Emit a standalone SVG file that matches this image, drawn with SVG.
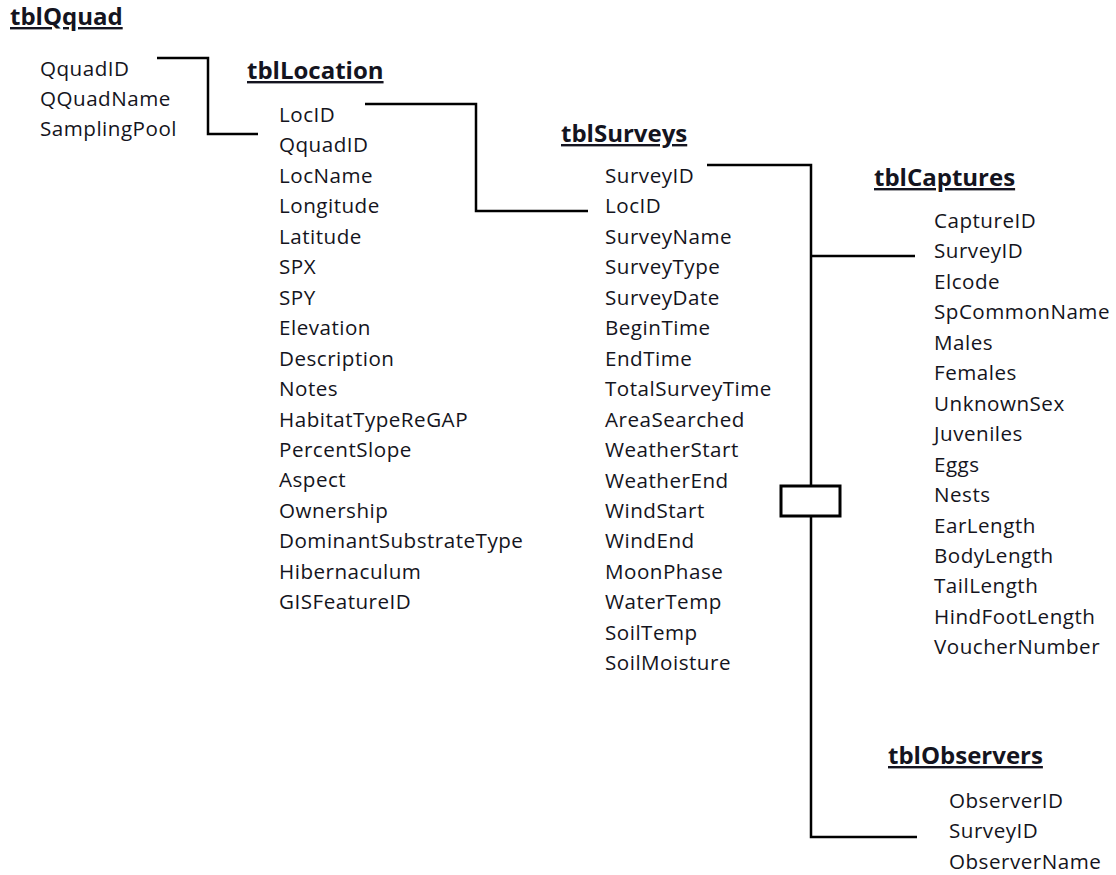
<svg xmlns="http://www.w3.org/2000/svg" width="1116" height="875" viewBox="0 0 1116 875">
<style>
text{font-family:"Open Sans","Noto Sans","Liberation Sans",sans-serif;fill:#141420}
.t{font-size:24px;font-weight:bold;text-decoration:underline}
.f{font-size:20.6px;letter-spacing:0.5px}
.c{fill:none;stroke:#000;stroke-width:2.5}
.box{fill:#fff;stroke:#000;stroke-width:3}
</style>
<rect width="1116" height="875" fill="#fff"/>
<g id="connectors">
<polyline class="c" points="157,58 208,58 208,134 258,134"/>
<polyline class="c" points="365,104 476,104 476,211 588,211"/>
<polyline class="c" points="707,165 811,165 811,837 917,837"/>
<line class="c" x1="811" y1="256" x2="915" y2="256"/>
<rect class="box" x="781" y="486" width="59" height="30"/>
</g>
<g id="tblQquad">
<text class="t" x="10" y="25">tblQquad</text>
<text class="f" x="40" y="76">QquadID</text>
<text class="f" x="40" y="106">QQuadName</text>
<text class="f" x="40" y="136">SamplingPool</text>
</g>
<g id="tblLocation">
<text class="t" x="247" y="79">tblLocation</text>
<text class="f" x="279" y="122">LocID</text>
<text class="f" x="279" y="152.4">QquadID</text>
<text class="f" x="279" y="182.9">LocName</text>
<text class="f" x="279" y="213.3">Longitude</text>
<text class="f" x="279" y="243.8">Latitude</text>
<text class="f" x="279" y="274.2">SPX</text>
<text class="f" x="279" y="304.7">SPY</text>
<text class="f" x="279" y="335.1">Elevation</text>
<text class="f" x="279" y="365.6">Description</text>
<text class="f" x="279" y="396">Notes</text>
<text class="f" x="279" y="426.5">HabitatTypeReGAP</text>
<text class="f" x="279" y="456.9">PercentSlope</text>
<text class="f" x="279" y="487.4">Aspect</text>
<text class="f" x="279" y="517.8">Ownership</text>
<text class="f" x="279" y="548.3">DominantSubstrateType</text>
<text class="f" x="279" y="578.7">Hibernaculum</text>
<text class="f" x="279" y="609.2">GISFeatureID</text>
</g>
<g id="tblSurveys">
<text class="t" x="561" y="142">tblSurveys</text>
<text class="f" x="605" y="183">SurveyID</text>
<text class="f" x="605" y="213.4">LocID</text>
<text class="f" x="605" y="243.9">SurveyName</text>
<text class="f" x="605" y="274.3">SurveyType</text>
<text class="f" x="605" y="304.8">SurveyDate</text>
<text class="f" x="605" y="335.2">BeginTime</text>
<text class="f" x="605" y="365.7">EndTime</text>
<text class="f" x="605" y="396.1">TotalSurveyTime</text>
<text class="f" x="605" y="426.6">AreaSearched</text>
<text class="f" x="605" y="457">WeatherStart</text>
<text class="f" x="605" y="487.5">WeatherEnd</text>
<text class="f" x="605" y="517.9">WindStart</text>
<text class="f" x="605" y="548.4">WindEnd</text>
<text class="f" x="605" y="578.8">MoonPhase</text>
<text class="f" x="605" y="609.3">WaterTemp</text>
<text class="f" x="605" y="639.7">SoilTemp</text>
<text class="f" x="605" y="670.2">SoilMoisture</text>
</g>
<g id="tblCaptures">
<text class="t" x="874" y="186">tblCaptures</text>
<text class="f" x="934" y="228">CaptureID</text>
<text class="f" x="934" y="258.4">SurveyID</text>
<text class="f" x="934" y="288.9">Elcode</text>
<text class="f" x="934" y="319.3">SpCommonName</text>
<text class="f" x="934" y="349.8">Males</text>
<text class="f" x="934" y="380.2">Females</text>
<text class="f" x="934" y="410.7">UnknownSex</text>
<text class="f" x="934" y="441.1">Juveniles</text>
<text class="f" x="934" y="471.6">Eggs</text>
<text class="f" x="934" y="502">Nests</text>
<text class="f" x="934" y="532.5">EarLength</text>
<text class="f" x="934" y="562.9">BodyLength</text>
<text class="f" x="934" y="593.4">TailLength</text>
<text class="f" x="934" y="623.8">HindFootLength</text>
<text class="f" x="934" y="654.3">VoucherNumber</text>
</g>
<g id="tblObservers">
<text class="t" x="888" y="764">tblObservers</text>
<text class="f" x="949" y="808">ObserverID</text>
<text class="f" x="949" y="838.4">SurveyID</text>
<text class="f" x="949" y="868.9">ObserverName</text>
</g>
</svg>
